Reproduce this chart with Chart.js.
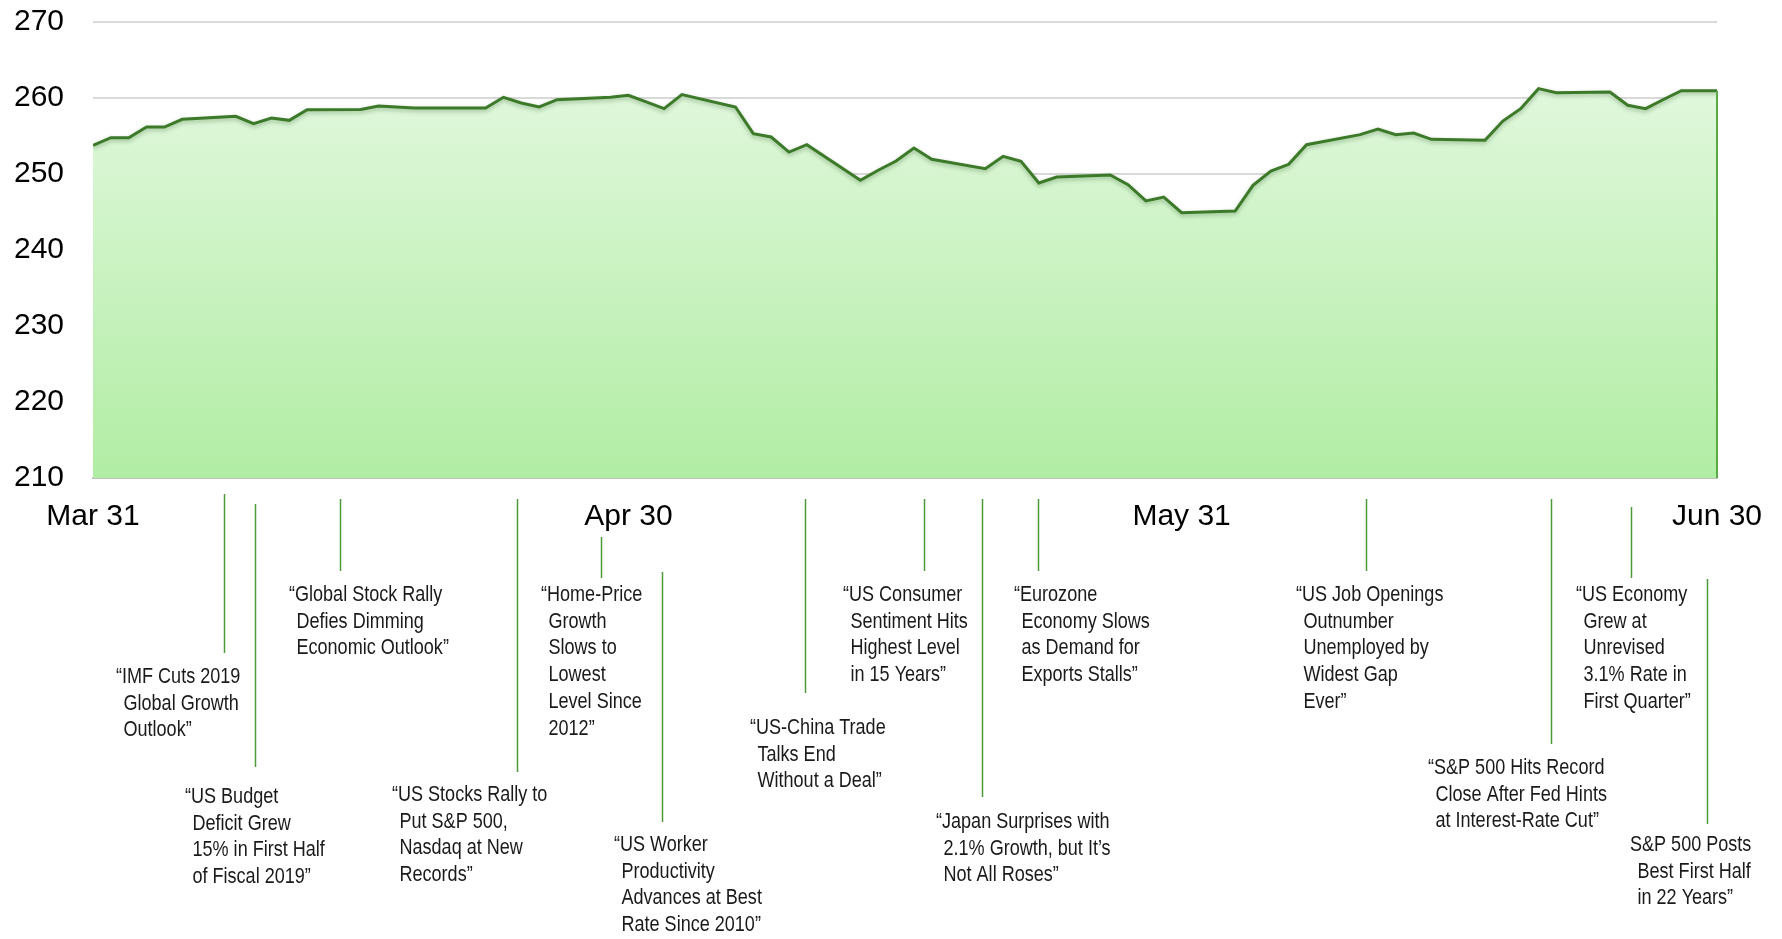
<!DOCTYPE html>
<html>
<head>
<meta charset="utf-8">
<script src="https://cdn.jsdelivr.net/npm/chart.js@4.4.1/dist/chart.umd.min.js"></script>
<style>
    body { margin: 0; background: #fff; }
    #wrap { width: 1782px; height: 939px; }
</style>
</head>
<body>
<div id="wrap"><canvas id="myChart" width="1782" height="939"></canvas></div>
<script>
// day offset from Mar 31 (trading days only, weekends are just the straight segment)
const days = [0, 1, 2, 3, 4, 5, 8, 9, 10, 11, 12, 15, 16, 17, 18, 22, 23, 24, 25, 26, 29, 30,
    31, 32, 33, 36, 37, 38, 39, 40, 43, 44, 45, 46, 47, 50, 51, 52, 53, 54, 57, 58, 59, 60, 61,
    64, 65, 66, 67, 68, 71, 72, 73, 74, 75, 78, 79, 80, 81, 82, 85, 86, 87, 88, 89, 91];
const values = [253.77, 254.78, 254.78, 256.18, 256.18, 257.19, 257.59, 256.62, 257.37, 257.06,
    258.46, 258.50, 258.95, 258.82, 258.68, 258.68, 260.09, 259.34, 258.82, 259.78, 260.09, 260.35,
    259.50, 258.60, 260.44, 258.82, 255.31, 254.87, 252.89, 253.86, 249.17, 250.50, 251.70, 253.42,
    251.93, 250.70, 252.32, 251.67, 248.82, 249.60, 249.87, 248.60, 246.45, 246.97, 244.91,
    245.13, 248.50, 250.39, 251.27, 253.86, 255.18, 255.92, 255.18, 255.39, 254.56, 254.43,
    256.97, 258.60, 261.23, 260.70, 260.79, 259.04, 258.60, 259.80, 260.96, 260.96];

const tickDays = [0, 30, 61, 91];
const tickLabels = ["Mar 31", "Apr 30", "May 31", "Jun 30"];

// headlines and where they point on the date axis
const headlineDays = [7.34, 9.1, 13.84, 23.76, 28.47, 31.88, 39.92, 46.56, 49.81, 52.95, 71.33, 81.7, 86.18, 90.44];
const headlines = [
    ["“IMF Cuts 2019", "Global Growth", "Outlook”"],
    ["“US Budget", "Deficit Grew", "15% in First Half", "of Fiscal 2019”"],
    ["“Global Stock Rally", "Defies Dimming", "Economic Outlook”"],
    ["“US Stocks Rally to", "Put S&P 500,", "Nasdaq at New", "Records”"],
    ["“Home-Price", "Growth", "Slows to", "Lowest", "Level Since", "2012”"],
    ["“US Worker", "Productivity", "Advances at Best", "Rate Since 2010”"],
    ["“US-China Trade", "Talks End", "Without a Deal”"],
    ["“US Consumer", "Sentiment Hits", "Highest Level", "in 15 Years”"],
    ["“Japan Surprises with", "2.1% Growth, but It’s", "Not All Roses”"],
    ["“Eurozone", "Economy Slows", "as Demand for", "Exports Stalls”"],
    ["“US Job Openings", "Outnumber", "Unemployed by", "Widest Gap", "Ever”"],
    ["“S&P 500 Hits Record", "Close After Fed Hints", "at Interest-Rate Cut”"],
    ["“US Economy", "Grew at", "Unrevised", "3.1% Rate in", "First Quarter”"],
    ["S&P 500 Posts", "Best First Half", "in 22 Years”"]
];
// layout of each headline: connector top/bottom, text left, first line centre (px)
const noteLayout = [
    [494, 653, 116, 677], [504, 767, 185, 797], [499, 571, 289, 595], [499, 772, 392, 795],
    [537, 578, 541, 595], [572, 822, 614, 845], [499, 693, 750, 728], [499, 571, 843, 595],
    [499, 797, 936, 822], [499, 571, 1014, 595], [499, 571, 1296, 595], [499, 744, 1428, 768],
    [507, 578, 1576, 595], [579, 824, 1630, 845]
];

hasFont = (name) => {
    const c = document.createElement('canvas').getContext('2d');
    const s = 'abcdefghij WMW 0123';
    c.font = '40px monospace';
    const w0 = c.measureText(s).width;
    c.font = '40px "' + name + '", monospace';
    return c.measureText(s).width !== w0;
};
const narrow = hasFont('Liberation Sans Narrow');
const noteFont = narrow ? '22px "Liberation Sans Narrow"' : '22px "Liberation Sans", Arial';
const squeeze = narrow ? 1 : 0.82;

const notesPlugin = {
    id: 'notes',
    beforeDatasetDraw: (chart) => {
        const ctx = chart.ctx;
        ctx.save();
        ctx.shadowColor = 'rgba(30, 80, 20, 0.35)';
        ctx.shadowBlur = 4;
        ctx.shadowOffsetY = 2;
    },
    afterDatasetDraw: (chart) => {
        chart.ctx.restore();
    },
    afterDraw: (chart) => {
        const ctx = chart.ctx;
        const xs = chart.scales.x;
        const ys = chart.scales.y;
        ctx.save();
        // right edge of the area
        const xe = xs.getPixelForValue(days[days.length - 1]);
        ctx.strokeStyle = '#5aa846';
        ctx.lineWidth = 2;
        ctx.beginPath();
        ctx.moveTo(xe, ys.getPixelForValue(values[values.length - 1]));
        ctx.lineTo(xe, chart.chartArea.bottom);
        ctx.stroke();

        ctx.font = noteFont;
        ctx.fillStyle = '#1a1a1a';
        ctx.textBaseline = 'middle';
        headlines.forEach((lines, i) => {
            const [y1, y2, tx, ty] = noteLayout[i];
            const x = Math.round(xs.getPixelForValue(headlineDays[i])) + 0.5;
            ctx.strokeStyle = '#4e9a3a';
            ctx.lineWidth = 1.5;
            ctx.beginPath();
            ctx.moveTo(x, y1);
            ctx.lineTo(x, y2);
            ctx.stroke();
            lines.forEach((t, j) => {
                ctx.save();
                ctx.translate(tx + (j > 0 ? 7.5 : 0), ty + j * 26.7);
                ctx.scale(squeeze, 1);
                ctx.fillText(t, 0, 0);
                ctx.restore();
            });
        });
        ctx.restore();
    }
};

const ctx = document.getElementById('myChart').getContext('2d');
const myChart = new Chart(ctx, {
    type: 'line',
    data: {
        datasets: [{
            data: days.map((d, i) => ({ x: d, y: values[i] })),
            borderColor: '#3c7a2a',
            borderWidth: 3,
            pointRadius: 0,
            tension: 0,
            fill: 'start',
            backgroundColor: (c) => {
                const area = c.chart.chartArea;
                if (!area) return '#cdf3c4';
                const g = c.chart.ctx.createLinearGradient(0, area.top, 0, area.bottom);
                g.addColorStop(0, '#e8f9e5');
                g.addColorStop(1, '#b1eda4');
                return g;
            }
        }]
    },
    options: {
        responsive: false,
        animation: false,
        layout: { padding: { top: 22, right: 65, left: 0, bottom: 0 } },
        plugins: {
            legend: { display: false },
            tooltip: { enabled: false }
        },
        scales: {
            x: {
                type: 'linear',
                min: 0,
                max: 91,
                afterFit: (s) => { s.height = 461; },
                afterBuildTicks: (s) => { s.ticks = tickDays.map((v) => ({ value: v })); },
                grid: { display: false },
                border: { display: true, color: '#c0c0c0', width: 2 },
                ticks: {
                    autoSkip: false,
                    maxRotation: 0,
                    padding: 13,
                    color: '#000',
                    font: { family: '"Liberation Sans", Arial', size: 30 },
                    callback: (v) => tickLabels[tickDays.indexOf(v)]
                }
            },
            y: {
                min: 210,
                max: 270,
                afterFit: (s) => {
                    s.width = 93;
                    s.paddingTop = 0;
                    s.paddingBottom = 0;
                },
                border: { display: false },
                grid: {
                    drawTicks: false,
                    color: '#d9d9d9',
                    lineWidth: 2
                },
                ticks: {
                    stepSize: 10,
                    padding: 29,
                    color: '#000',
                    font: { family: '"Liberation Sans", Arial', size: 30 }
                }
            }
        }
    },
    plugins: [notesPlugin]
});
</script>
</body>
</html>
